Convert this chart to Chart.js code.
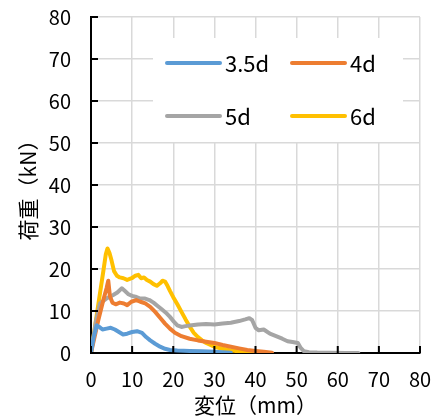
<!DOCTYPE html>
<html>
<head>
<meta charset="utf-8">
<script src="https://cdn.jsdelivr.net/npm/chart.js@4/dist/chart.umd.min.js"></script>
<style>
    body { margin: 0; background: #fff; }
    #wrap { width: 438px; height: 419px; position: relative; }
</style>
</head>
<body>
<div id="wrap"><canvas id="chart"></canvas></div>
<script>
// series labels and colours
const labels = ["3.5d", "4d", "5d", "6d"];
const colors = ["#5B9BD5", "#ED7D31", "#A5A5A5", "#FFC000"];

// 3.5d
const d35X = [0, 0.6, 1.4, 2.0, 2.8, 3.8, 4.8, 5.8, 6.8, 7.8, 8.8, 10.0, 11.2, 12.4, 13.4, 14.4, 15.6, 16.8, 18.0, 19.2, 21, 24, 27, 30, 32, 34];
const d35Y = [0, 3.5, 6.6, 6.2, 5.6, 5.8, 6.0, 5.6, 5.0, 4.4, 4.6, 5.0, 5.2, 4.8, 3.8, 3.0, 2.2, 1.5, 1.0, 0.7, 0.6, 0.5, 0.4, 0.3, 0.2, 0.05];

// 4d
const d4X = [0, 1.8, 3.0, 3.8, 4.2, 4.6, 5.2, 6.0, 7.0, 8.0, 8.8, 9.8, 11.0, 12.0, 13.2, 14.4, 15.6, 16.8, 18.0, 19.2, 20.4, 22, 24, 26, 28, 30, 32, 34, 36, 38, 40, 42, 44];
const d4Y = [0, 7.9, 12.6, 15.5, 17.2, 13.5, 12.0, 11.6, 12.0, 11.8, 11.4, 12.2, 12.6, 12.2, 11.8, 11.0, 9.8, 8.4, 7.0, 5.8, 4.8, 4.0, 3.4, 3.0, 2.7, 2.4, 1.9, 1.5, 1.1, 0.7, 0.5, 0.3, 0.05];

// 5d
const d5X = [0, 1.2, 2.2, 3.0, 3.8, 4.6, 5.4, 6.4, 7.5, 8.2, 9.1, 10.0, 10.8, 11.8, 13.0, 14.2, 15.2, 16.2, 17.2, 18.2, 19.2, 20.2, 21.0, 22.0, 23.0, 24.5, 26, 28, 30, 32, 34, 36, 37.5, 38.5, 39.2, 40.0, 40.8, 42, 43.5, 45, 46.5, 47.8, 49, 50.3, 51.0, 51.8, 53, 55, 58, 62, 65];
const d5Y = [0, 7.5, 11.8, 12.4, 13.0, 13.4, 13.8, 14.4, 15.4, 14.8, 14.0, 13.6, 13.4, 13.0, 13.0, 12.6, 12.0, 11.2, 10.4, 9.6, 8.6, 7.4, 6.6, 6.2, 6.4, 6.6, 6.8, 6.9, 6.8, 7.0, 7.2, 7.6, 8.0, 8.3, 7.8, 6.0, 5.4, 5.6, 4.6, 4.0, 3.4, 2.8, 2.6, 2.4, 1.2, 0.4, 0.2, 0.1, 0.05, 0.02, 0];

// 6d
const d6X = [0, 1.0, 2.0, 3.0, 3.6, 4.0, 4.5, 5.0, 5.6, 6.3, 7.0, 7.9, 8.8, 9.9, 10.8, 11.5, 12.2, 12.9, 13.6, 14.4, 15.2, 16.0, 16.8, 17.4, 18.0, 18.6, 19.2, 20, 21, 22, 23, 24, 25, 26, 27, 28, 30, 32, 34, 36, 38, 40.5];
const d6Y = [0, 6.5, 13, 19.5, 23.5, 24.9, 23.8, 22.0, 19.5, 18.4, 18.0, 17.8, 17.4, 17.8, 18.4, 18.6, 17.8, 18.0, 17.4, 17.0, 16.4, 16.0, 16.6, 17.2, 17.0, 16.0, 14.8, 13.3, 11.6, 9.8, 8.0, 6.3, 4.8, 3.8, 3.0, 2.4, 1.5, 1.0, 0.6, 0.4, 0.2, 0.05];

const seriesX = [d35X, d4X, d5X, d6X];
const seriesY = [d35Y, d4Y, d5Y, d6Y];

const FONT = "'Noto Sans CJK JP', 'Noto Sans', sans-serif";

const toPoints = (xs, ys) => xs.map((x, i) => ({x: x, y: ys[i]}));

// legend box inside the plot area, two columns
const insideLegend = {
    id: 'insideLegend',
    beforeDatasetsDraw(chart) {
        const {ctx, chartArea: a} = chart;
        ctx.save();
        ctx.fillStyle = '#fff';
        ctx.fillRect(a.left + 62, a.top + 21, 250, 104);
        ctx.font = "22px " + FONT;
        ctx.textBaseline = 'middle';
        ctx.lineCap = 'round';
        ctx.lineWidth = 4;
        chart.data.datasets.forEach((ds, i) => {
            const col = i % 2, row = Math.floor(i / 2);
            const x0 = a.left + 76 + col * 125;
            const y0 = a.top + 46 + row * 53;
            ctx.strokeStyle = ds.borderColor;
            ctx.beginPath();
            ctx.moveTo(x0, y0);
            ctx.lineTo(x0 + 53, y0);
            ctx.stroke();
            ctx.fillStyle = '#000';
            ctx.fillText(ds.label, x0 + 58, y0 + 1);
        });
        ctx.restore();
    },
    // short black tick marks pointing into the plot
    afterDatasetsDraw(chart) {
        const {ctx, chartArea: a, scales} = chart;
        ctx.save();
        ctx.strokeStyle = '#000';
        ctx.lineWidth = 2;
        ctx.beginPath();
        scales.x.ticks.forEach((t) => {
            const px = scales.x.getPixelForValue(t.value);
            ctx.moveTo(px, a.bottom);
            ctx.lineTo(px, a.bottom - 7);
        });
        scales.y.ticks.forEach((t) => {
            const py = scales.y.getPixelForValue(t.value);
            ctx.moveTo(a.left, py);
            ctx.lineTo(a.left + 7, py);
        });
        ctx.stroke();
        ctx.restore();
    }
};

new Chart(document.getElementById('chart'), {
    type: 'line',
    data: {
        datasets: labels.map((l, i) => ({
            label: l,
            data: toPoints(seriesX[i], seriesY[i]),
            borderColor: colors[i],
            backgroundColor: colors[i],
            borderWidth: 4,
            pointRadius: 0,
            tension: 0,
            borderJoinStyle: 'round',
            borderCapStyle: 'round'
        }))
    },
    options: {
        responsive: true,
        maintainAspectRatio: false,
        animation: false,
        layout: {padding: {top: 17, right: 18, left: 0, bottom: 0}},
        plugins: {
            legend: {display: false},
            tooltip: {enabled: false}
        },
        scales: {
            x: {
                type: 'linear',
                min: 0,
                max: 80,
                afterFit: (s) => { s.height = 66; },
                border: {display: true, color: '#000', width: 2},
                grid: {color: '#d9d9d9', lineWidth: 1.5, drawTicks: true, tickLength: 14, tickColor: 'rgba(0,0,0,0)'},
                ticks: {stepSize: 10, padding: 0, color: '#000', font: {family: FONT, size: 20}},
                title: {display: true, text: '変位（mm）', color: '#000', padding: {top: 0, bottom: 1}, font: {family: FONT, size: 21}}
            },
            y: {
                min: 0,
                max: 80,
                afterFit: (s) => { s.width = 91; },
                border: {display: true, color: '#000', width: 2},
                grid: {color: '#d9d9d9', lineWidth: 1.5, drawTicks: true, tickLength: 20, tickColor: 'rgba(0,0,0,0)'},
                ticks: {stepSize: 10, padding: 0, color: '#000', font: {family: FONT, size: 20}},
                title: {display: true, text: '荷重（kN）', color: '#000', padding: {top: 15, bottom: 0}, font: {family: FONT, size: 21}}
            }
        }
    },
    plugins: [insideLegend]
});
</script>
</body>
</html>
